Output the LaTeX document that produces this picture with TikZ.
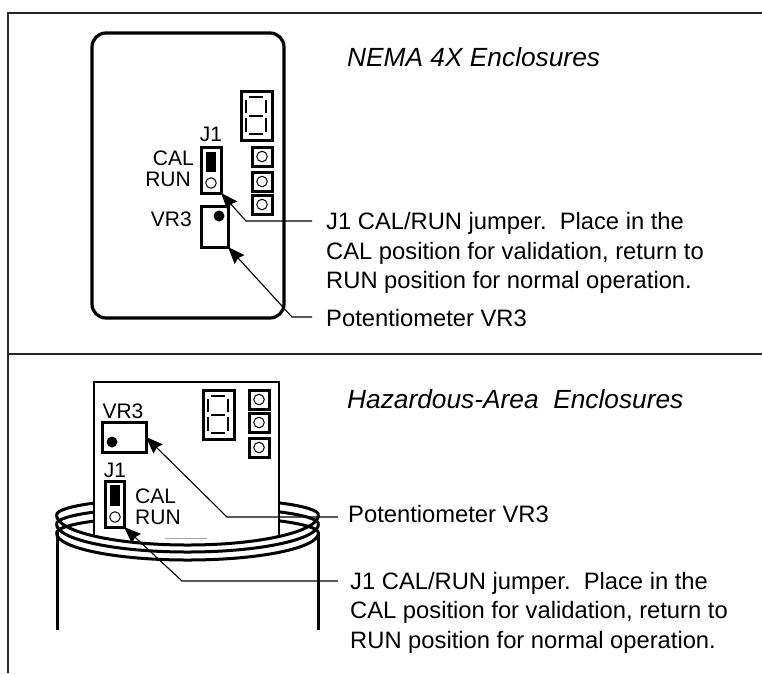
\documentclass[tikz,border=0pt]{standalone}
\usepackage{fontspec}
\setmainfont{Liberation Sans}
\usetikzlibrary{arrows.meta}
\tikzset{
  frameline/.style={line width=1.1pt,black!85},
  outline/.style={line width=3.2pt,black},
  boxthick/.style={draw=black,line width=3pt,fill=white,inner sep=0pt,outer sep=0pt},
  solidblock/.style={fill=black,draw=none,inner sep=0pt},
  seg/.style={line width=1.7pt,black},
  ledring/.style={draw=black,line width=1pt,circle,minimum size=10.5pt,inner sep=0pt,fill=white},
  dot/.style={fill=black,circle,minimum size=11pt,inner sep=0pt},
  leader/.style={line width=1.1pt,black},
  leadarrow/.style={leader,-{Stealth[length=17pt,width=13pt,inset=2pt]}},
  lab/.style={font=\fontsize{21}{25}\selectfont,inner sep=0pt},
  body/.style={font=\fontsize{23.75}{28}\selectfont,inner sep=0pt,anchor=base west},
  title/.style={font=\fontsize{26.3}{31}\selectfont\itshape,inner sep=0pt,anchor=base west},
  ringline/.style={line width=3pt,black},
}
% box by corners: name, x1, y1, x2, y2
\newcommand{\pcbbox}[6][boxthick]{%
  \node[#1,minimum width={(#5)*1pt-(#3)*1pt},minimum height={(#6)*1pt-(#4)*1pt},anchor=north west] (#2) at (#3,#4) {};}
% seven-segment display, origin at outer north-west
\newcommand{\sevenseg}[3]{%
  \pcbbox{#1}{#2}{#3}{#2+31}{#3+49}
  \begin{scope}[shift={(#2,#3)}]
    \draw[seg] (8,6)--(22,6) (8,25)--(22,25) (8,43)--(22,43)
      (5,9)--(5,22) (25,9)--(25,22) (5,27)--(5,41) (25,27)--(25,41);
  \end{scope}}
% LED: name, left x, top y
\newcommand{\ledbox}[3]{%
  \pcbbox{#1}{#2}{#3}{#2+20}{#3+19}
  \node[ledring] at (#1.center) {};}
\newcommand{\ringback}[1]{%
  \draw[ringline] (56.5,#1) .. controls (56.5,#1-9.4) and (115,#1-17) .. (187.5,#1-17)
     .. controls (260,#1-17) and (318.5,#1-9.4) .. (318.5,#1);}
\newcommand{\ringfront}[2]{%
  \draw[ringline] (56.5,#1) .. controls (56.5,#1+#2*0.552) and (115,#1+#2) .. (187.5,#1+#2)
     .. controls (260,#1+#2) and (318.5,#1+#2*0.552) .. (318.5,#1);}
\begin{document}
\begin{tikzpicture}[x=1pt,y=-1pt]
\useasboundingbox (0,0) rectangle (762,673);
% frame
\draw[frameline] (762,13) -- (8,13) -- (8,673);
\draw[frameline] (8,354) -- (762,354);

% ---------- NEMA 4X ----------
\draw[outline,rounded corners=14pt] (92,33) rectangle (284,318);
\node[title] (t1) at (347,66) {NEMA 4X Enclosures};
\sevenseg{dispA}{241}{91}
\ledbox{ledA1}{252}{147}
\ledbox{ledA2}{252}{172}
\ledbox{ledA3}{252}{195}
\pcbbox{jA}{201}{147}{221}{193}
\pcbbox[solidblock]{jAb}{206}{152}{216}{172}
\node[ledring] (jAc) at (211,183) {};
\pcbbox{vrA}{201}{206}{228}{247}
\node[dot] (vrAd) at (219,216) {};
\node[lab,anchor=base] (jAl) at (211,141) {J1};
\node[lab,anchor=base east] (calA) at (194,165) {CAL};
\node[lab,anchor=base east] (runA) at (191,186) {RUN};
\node[lab,anchor=base east] (vrAl) at (192,226) {VR3};
\node[body] (a1) at (326,229) {J1 CAL/RUN jumper.\ \ Place in the};
\node[body] (a2) at (326,259) {CAL position for validation, return to};
\node[body] (a3) at (326,288) {RUN position for normal operation.};
\node[body] (a4) at (326,326) {Potentiometer VR3};
\coordinate (a1e) at (312,221);
\coordinate (a4e) at (312,317);
\draw[leadarrow] (a1e) -- (246,221) -- (jA.south east);
\draw[leadarrow] (a4e) -- (292,317) -- (vrA.south east);

% ---------- Hazardous area ----------
\node[title] (t2) at (347,408) {Hazardous-Area\ \ Enclosures};
\draw[ringline] (57,532) -- (57,630);
\draw[ringline] (318,532) -- (318,630);
\ringback{515}\ringback{524}\ringback{533}
\ringfront{515}{30}\ringfront{524}{28}\ringfront{533}{27}
% board
\fill[white] (94,382) rectangle (279,535);
\draw[line width=2.8pt,black] (94,535) -- (94,382) -- (279,382) -- (279,490);
\draw[line width=1.2pt,black] (279,490) -- (279,515);
\draw[line width=2.8pt,black] (279,515) -- (279,535);
\draw[line width=0.9pt,black!35] (165,538) -- (207,538);
\sevenseg{dispB}{203}{390}
\ledbox{ledB1}{249}{390}
\ledbox{ledB2}{249}{413}
\ledbox{ledB3}{249}{438}
\pcbbox{vrB}{102}{422}{146}{452}
\node[dot] (vrBd) at (112,442) {};
\node[lab,anchor=base] (vrBl) at (123,418) {VR3};
\node[lab,anchor=base] (jBl) at (115,477) {J1};
\pcbbox{jB}{105}{481}{124}{527}
\pcbbox[solidblock]{jBb}{110}{485}{120}{506}
\node[ledring] (jBc) at (115,517) {};
\node[lab,anchor=base west] (calB) at (135,503) {CAL};
\node[lab,anchor=base west] (runB) at (135,524) {RUN};
\node[body] (b1) at (348,522) {Potentiometer VR3};
\node[body] (b2) at (350,589) {J1 CAL/RUN jumper.\ \ Place in the};
\node[body] (b3) at (350,618) {CAL position for validation, return to};
\node[body] (b4) at (350,648) {RUN position for normal operation.};
\coordinate (b1e) at (338,517);
\coordinate (b2e) at (338,581);
\draw[leadarrow] (b1e) -- (227,517) -- (vrB.east);
\draw[leadarrow] (b2e) -- (182,581) -- (jB.south east);
\end{tikzpicture}
\end{document}
